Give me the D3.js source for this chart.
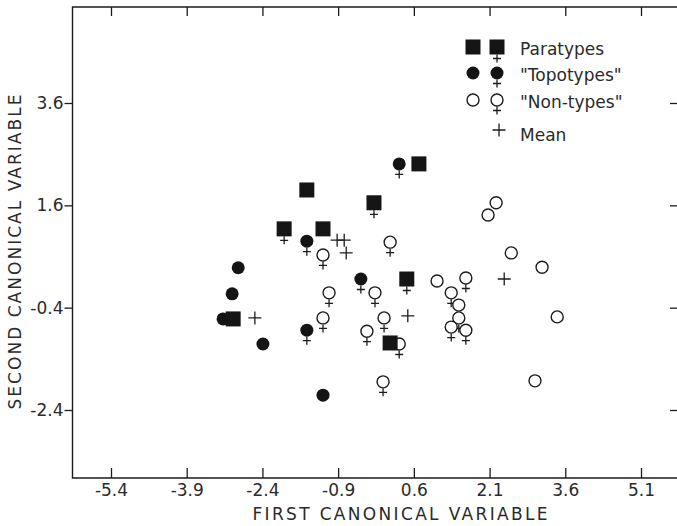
<!DOCTYPE html>
<html>
<head>
<meta charset="utf-8">
<script src="https://cdn.jsdelivr.net/npm/d3@7"></script>
<style>
  body { margin: 0; background: #fff; }
  svg { display: block; }
  svg text { font-family: "DejaVu Sans", sans-serif; }
</style>
</head>
<body>
<svg id="chart" width="677" height="526"></svg>
<script>
// canonical scores: [first, second, female?]
const xTicks = [-5.4, -3.9, -2.4, -0.9, 0.6, 2.1, 3.6, 5.1];
const yTicks = [3.6, 1.6, -0.4, -2.4];

const paratypes = [
  [-1.52, 1.90, 0], [-1.97, 1.14, 1], [-1.20, 1.14, 0], [-0.19, 1.65, 1],
  [0.70, 2.41, 0], [-2.98, -0.62, 0], [0.46, 0.16, 1], [0.13, -1.09, 0]
];
const topotypes = [
  [0.31, 2.41, 1], [-1.52, 0.90, 1], [-2.88, 0.38, 0], [-3.00, -0.13, 0],
  [-3.18, -0.62, 0], [-2.39, -1.11, 0], [-1.52, -0.84, 1], [-0.45, 0.16, 1],
  [-1.20, -2.11, 0]
];
const nontypes = [
  [-1.20, 0.63, 1], [0.13, 0.88, 1], [-1.08, -0.11, 1], [-1.20, -0.60, 1],
  [-0.17, -0.11, 1], [0.01, -0.60, 1], [-0.33, -0.86, 1], [0.31, -1.11, 1],
  [-0.01, -1.85, 1], [1.06, 0.12, 0], [1.63, 0.18, 1], [1.34, -0.11, 1],
  [1.49, -0.35, 0], [1.49, -0.60, 1], [1.34, -0.78, 1], [1.63, -0.84, 1],
  [2.23, 1.65, 0], [2.07, 1.41, 0], [2.53, 0.67, 0], [3.14, 0.39, 0],
  [3.44, -0.58, 0], [3.00, -1.83, 0]
];
const means = [
  [-0.92, 0.92], [-0.78, 0.92], [-0.74, 0.67], [-2.55, -0.60],
  [0.48, -0.56], [2.39, 0.16]
];
const legendLabels = ["Paratypes", "\"Topotypes\"", "\"Non-types\"", "Mean"];

const svg = d3.select("#chart");
const fLeft = 72.5, fRight = 680, fTop = 7, fBottom = 478;
const x = d3.scaleLinear().domain([-5.4, 5.1]).range([111, 641]);
const y = d3.scaleLinear().domain([-2.4, 3.6]).range([410, 103]);
const ink = "#1c1c1c", txt = "#2a2a2a";

// frame
svg.append("path")
  .attr("d", `M${fRight},${fTop}H${fLeft}V${fBottom}H${fRight}`)
  .attr("fill", "none").attr("stroke", ink).attr("stroke-width", 1.4);

const fmt = d => String(d);
const xAxis = svg.append("g").attr("transform", `translate(0,${fBottom})`)
  .call(d3.axisBottom(x).tickValues(xTicks).tickFormat(fmt)
    .tickSizeInner(-10).tickSizeOuter(0).tickPadding(4));
svg.append("g").attr("transform", `translate(0,${fTop})`)
  .call(d3.axisTop(x).tickValues(xTicks).tickFormat("")
    .tickSizeInner(-9).tickSizeOuter(0));
const yAxis = svg.append("g").attr("transform", `translate(${fLeft},0)`)
  .call(d3.axisLeft(y).tickValues(yTicks).tickFormat(fmt)
    .tickSizeInner(8).tickSizeOuter(0).tickPadding(1));
svg.append("g").attr("transform", `translate(${fRight},0)`)
  .call(d3.axisRight(y).tickValues(yTicks).tickFormat("")
    .tickSizeInner(-10).tickSizeOuter(0));
svg.selectAll(".domain").remove();
svg.selectAll(".tick line").attr("stroke", ink).attr("stroke-width", 1.3);
xAxis.attr("font-size", 17).attr("font-family", null);
yAxis.attr("font-size", 17).attr("font-family", null);
svg.selectAll(".tick text").attr("fill", txt);
xAxis.selectAll(".tick text").attr("dy", "0.85em");

svg.append("text")
  .attr("x", 400).attr("y", 520).attr("text-anchor", "middle")
  .attr("textLength", 295).attr("lengthAdjust", "spacing")
  .style("font-size", "17px").attr("fill", txt)
  .text("FIRST CANONICAL VARIABLE");
svg.append("text")
  .attr("transform", "translate(21,252) rotate(-90)")
  .attr("text-anchor", "middle")
  .attr("textLength", 315).attr("lengthAdjust", "spacing")
  .style("font-size", "17px").attr("fill", txt)
  .text("SECOND CANONICAL VARIABLE");

// symbols
function femaleCross(g, r){
  g.append("path")
    .attr("d", `M0,${r}V${r + 8}M-4,${r + 4}H4`)
    .attr("stroke", ink).attr("stroke-width", 1.3).attr("fill", "none");
}
function square(g, f){
  if (f) femaleCross(g, 7.5);
  g.append("rect").attr("x", -7.5).attr("y", -7.5).attr("width", 15).attr("height", 15)
    .attr("fill", "#151515");
}
function dot(g, f){
  if (f) femaleCross(g, 6.5);
  g.append("circle").attr("r", 6.5).attr("fill", "#141414");
}
function ring(g, f){
  if (f) femaleCross(g, 6.5);
  g.append("circle").attr("r", 6).attr("fill", "#fff")
    .attr("stroke", ink).attr("stroke-width", 1.4);
}
function plus(g){
  g.append("path").attr("d", "M-6.5,0H6.5M0,-6.5V6.5")
    .attr("stroke", ink).attr("stroke-width", 1.3);
}

function drawSet(data, fn){
  svg.append("g").selectAll("g").data(data).join("g")
    .attr("transform", d => `translate(${x(d[0])},${y(d[1])})`)
    .each(function(d){ fn(d3.select(this), d[2]); });
}
drawSet(nontypes, ring);
drawSet(means, plus);
drawSet(topotypes, dot);
drawSet(paratypes, square);

// legend
const leg = svg.append("g");
const rowY = [47, 73, 100, 130];
square(leg.append("g").attr("transform", `translate(473,${rowY[0]})`), 0);
square(leg.append("g").attr("transform", `translate(497,${rowY[0]})`), 1);
dot(leg.append("g").attr("transform", `translate(473,${rowY[1]})`), 0);
dot(leg.append("g").attr("transform", `translate(497,${rowY[1]})`), 1);
ring(leg.append("g").attr("transform", `translate(473,${rowY[2]})`), 0);
ring(leg.append("g").attr("transform", `translate(497,${rowY[2]})`), 1);
plus(leg.append("g").attr("transform", `translate(499,${rowY[3]})`));
leg.selectAll("text.lab").data(legendLabels).join("text")
  .attr("class", "lab")
  .attr("x", 520).attr("y", (d, i) => rowY[i] + (i === 3 ? 5 : 2))
  .attr("dy", "0.35em")
  .style("font-size", "17px").attr("fill", txt)
  .text(d => d);
</script>
</body>
</html>
